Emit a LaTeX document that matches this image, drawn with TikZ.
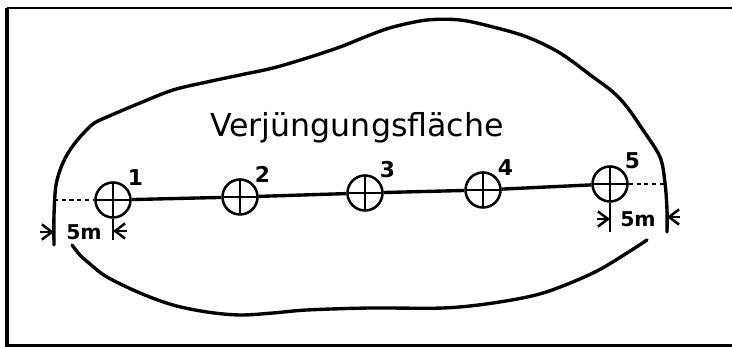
\documentclass[tikz,border=0pt]{standalone}
\usepackage{fontspec}
\setmainfont{DejaVu Sans}
\usetikzlibrary{arrows.meta, positioning}

\begin{document}
\begin{tikzpicture}[
  x=0.025cm, y=-0.025cm,
  rand/.style={line width=2.4pt, line join=round, line cap=round},
  marker/.style={circle, draw, line width=1.8pt, minimum size=0.875cm, inner sep=0pt,
    path picture={\draw[line width=1.8pt] (path picture bounding box.north) -- (path picture bounding box.south)
      (path picture bounding box.west) -- (path picture bounding box.east);}},
  num/.style={font=\bfseries\fontsize{15.5}{15.5}\selectfont, inner sep=1pt},
  mass/.style={font=\bfseries\fontsize{14.5}{14.5}\selectfont, inner sep=0pt},
  pfeil/.style={-{Straight Barb[length=2.5mm, width=3.8mm]}, line width=1.8pt},
  hilfs/.style={line width=2pt, dash pattern=on 3pt off 2.5pt},
]
\useasboundingbox (0,0) rectangle (732,347);

% Rahmen
\draw[line width=1.5pt] (7,8) -- (732,8);
\draw[line width=3pt] (7,8) -- (7,347);
\draw[line width=1.5pt] (7,345.5) -- (732,345.5);

% Flaeche
\draw[rand] plot[smooth, tension=0.55] coordinates {(54,245) (54,215) (56,185) (62,165) (70,150) (80,137)
  (93,124) (107,117) (140,103) (173,90) (207,82) (240,75) (273,68) (307,58) (340,47) (370,35)
  (393,27) (427,20) (460,20) (493,27) (527,37) (560,53) (593,77) (613,92) (627,107) (643,130)
  (660,157) (665,183) (667,210) (667,232)};
\draw[rand] plot[smooth, tension=0.55] coordinates {(72,245) (80,255) (90,264) (107,277) (140,293)
  (173,305) (207,312) (240,315) (273,313) (307,310) (370,308) (443,308) (493,303) (543,293)
  (593,273) (627,253) (647,240)};

\node[font=\fontsize{22.5}{22.5}\selectfont, anchor=base] (titel) at (357,137) {Verjüngungsfläche};

% Messpunkte
\node[marker, label={[num]45:1}] (w1) at (113,200) {};
\node[marker, label={[num]45:2}] (w2) at (240,197) {};
\node[marker, label={[num]45:3}] (w3) at (365,193) {};
\node[marker, label={[num]45:4}] (w4) at (483,190) {};
\node[marker, label={[num]45:5}] (w5) at (610,184) {};

\draw[line width=2.4pt] (w1) -- (w2) -- (w3) -- (w4) -- (w5);

\coordinate (lrand) at (54,200);
\coordinate (rrand) at (667,184);
\draw[hilfs] (lrand) -- (w1);
\draw[hilfs] (w5) -- (rrand);

% Abstaende 5m
\coordinate (m1) at (113,240);
\coordinate (m5) at (610,232);
\draw[line width=1.8pt] (w1) -- (m1);
\draw[line width=1.8pt] (w5) -- (m5);

\coordinate (la) at (40,232);
\coordinate (lb) at (54,232);
\coordinate (lc) at (127,231);
\coordinate (ld) at (113,231);
\draw[pfeil] (la) -- (lb);
\draw[pfeil] (lc) -- (ld);
\node[mass] (ml) at (84,232) {5m};

\coordinate (ra) at (597,219);
\coordinate (rb) at (610,219);
\coordinate (rc) at (680,217);
\coordinate (rd) at (667,217);
\draw[pfeil] (ra) -- (rb);
\draw[pfeil] (rc) -- (rd);
\node[mass] (mr) at (638,219) {5m};

\end{tikzpicture}
\end{document}
